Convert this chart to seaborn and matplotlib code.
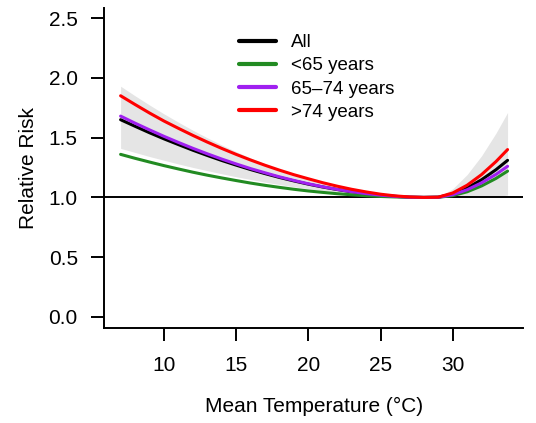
import numpy as np
import pandas as pd
import matplotlib
matplotlib.use("Agg")
import matplotlib.pyplot as plt
from matplotlib.lines import Line2D
import seaborn as sns

# ---- data ----
temp = [7, 8, 9, 10, 11, 12, 13, 14, 15, 16, 17, 18, 19, 20, 21, 22, 23, 24,
        25, 26, 27, 28, 29, 30, 31, 32, 33, 33.8]
rr_all = [1.650, 1.595, 1.541, 1.490, 1.442, 1.395, 1.351, 1.309, 1.270, 1.233,
          1.199, 1.167, 1.138, 1.111, 1.087, 1.066, 1.047, 1.031, 1.018, 1.009,
          1.002, 1.000, 1.002, 1.029, 1.079, 1.148, 1.232, 1.310]
rr_lt65 = [1.360, 1.327, 1.296, 1.266, 1.238, 1.211, 1.186, 1.163, 1.141, 1.120,
           1.101, 1.084, 1.068, 1.054, 1.042, 1.031, 1.022, 1.014, 1.008, 1.004,
           1.001, 1.000, 1.001, 1.015, 1.047, 1.096, 1.159, 1.220]
rr_65_74 = [1.680, 1.621, 1.565, 1.511, 1.460, 1.411, 1.365, 1.321, 1.280, 1.241,
            1.206, 1.172, 1.142, 1.114, 1.089, 1.067, 1.048, 1.032, 1.019, 1.009,
            1.002, 1.000, 1.001, 1.023, 1.064, 1.122, 1.193, 1.260]
rr_gt74 = [1.850, 1.777, 1.706, 1.639, 1.578, 1.519, 1.463, 1.410, 1.360, 1.313,
           1.269, 1.228, 1.190, 1.156, 1.123, 1.094, 1.068, 1.046, 1.027, 1.013,
           1.004, 1.000, 1.002, 1.037, 1.102, 1.191, 1.300, 1.400]
ci_upper = [1.930, 1.850, 1.773, 1.699, 1.629, 1.562, 1.499, 1.439, 1.383, 1.330,
            1.281, 1.236, 1.194, 1.156, 1.122, 1.092, 1.065, 1.043, 1.025, 1.012,
            1.003, 1.000, 1.004, 1.072, 1.191, 1.348, 1.538, 1.710]
ci_lower = [1.410, 1.376, 1.342, 1.311, 1.280, 1.251, 1.224, 1.198, 1.173, 1.150,
            1.128, 1.108, 1.089, 1.072, 1.057, 1.043, 1.031, 1.021, 1.012, 1.006,
            1.002, 1.000, 1.000, 1.000, 0.999, 1.000, 1.005, 1.020]

groups = ["All", "<65 years", "65–74 years", ">74 years"]
colors = ["#000000", "#228B22", "#A020F0", "#FF0000"]
x_ticks = [10, 15, 20, 25, 30]
y_ticks = [0.0, 0.5, 1.0, 1.5, 2.0, 2.5]
x_label = "Mean Temperature (°C)"
y_label = "Relative Risk"

df = pd.DataFrame({
    "temp": temp * 4,
    "rr": rr_all + rr_lt65 + rr_65_74 + rr_gt74,
    "group": [g for g in groups for _ in temp],
})

sns.set_style("ticks")
plt.rcParams["font.family"] = ["Liberation Sans", "DejaVu Sans"]
plt.rcParams["text.color"] = "black"
plt.rcParams["axes.labelcolor"] = "black"
plt.rcParams["xtick.color"] = "black"
plt.rcParams["ytick.color"] = "black"

W, H = 536, 423
fig = plt.figure(figsize=(W / 100, H / 100), dpi=100)
ax_l, ax_r, ax_t, ax_b = 104, 523.3, 8, 328
ax = fig.add_axes([ax_l / W, 1 - ax_b / H, (ax_r - ax_l) / W, (ax_b - ax_t) / H])

ax.fill_between(temp, ci_lower, ci_upper, color="#E5E5E5", lw=0, zorder=1)
ax.axhline(1.0, color="black", lw=1.4, zorder=2)

sns.lineplot(data=df, x="temp", y="rr", hue="group", hue_order=groups,
             palette=colors, linewidth=2.2, errorbar=None, legend=False,
             ax=ax, zorder=3)

ax.set_xlim(5.85, 34.89)
ax.set_ylim(-0.092, 2.584)
ax.set_xticks(x_ticks)
ax.set_xticklabels([str(t) for t in x_ticks])
ax.set_yticks(y_ticks)
ax.set_yticklabels([f"{t:.1f}" for t in y_ticks])

for s in ["top", "right"]:
    ax.spines[s].set_visible(False)
for s in ["left", "bottom"]:
    ax.spines[s].set_linewidth(1.4)
    ax.spines[s].set_color("black")

ax.tick_params(axis="both", direction="out", length=9.4, width=1.4,
               color="black", labelsize=15, labelcolor="black")
ax.tick_params(axis="x", pad=10.5)
ax.tick_params(axis="y", pad=9.5)

ax.set_xlabel(x_label, fontsize=15, color="black")
ax.set_ylabel(y_label, fontsize=15, color="black")
ax.xaxis.label.set_verticalalignment("center")
ax.xaxis.set_label_coords(0.5, (ax_b - 406) / (ax_b - ax_t))
ax.yaxis.label.set_rotation_mode("default")
ax.yaxis.label.set_verticalalignment("center")
ax.yaxis.label.set_horizontalalignment("center")
ax.yaxis.set_label_coords((28 - ax_l) / (ax_r - ax_l), 0.5)

handles = [Line2D([], [], color=c, lw=3.0) for c in colors]
leg = ax.legend(handles, groups, loc="upper left",
                bbox_to_anchor=(239 / W, 1 - 34 / H), bbox_transform=fig.transFigure,
                frameon=False, borderpad=0, borderaxespad=0, fontsize=13.5,
                handlelength=1.98, handletextpad=0.8, labelspacing=0.33)
for t in leg.get_texts():
    t.set_color("black")

ax.grid(False)
fig.savefig("out.png", dpi=100)
